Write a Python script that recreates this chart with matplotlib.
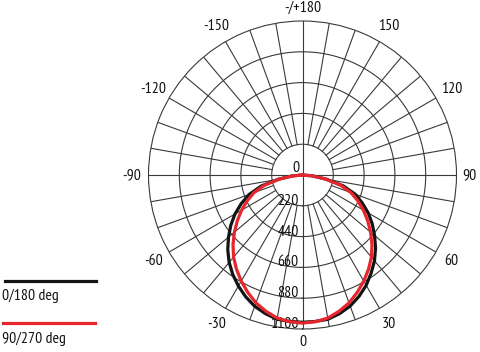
import numpy as np
import matplotlib
matplotlib.use("Agg")
import matplotlib.pyplot as plt
from matplotlib.lines import Line2D

# ---- data ----
angles_deg = [-90, -85, -80, -75, -70, -65, -60, -55, -50, -45, -40, -35, -30, -25, -20, -15, -10, -5,
              0, 5, 10, 15, 20, 25, 30, 35, 40, 45, 50, 55, 60, 65, 70, 75, 80, 85, 90]
c0_180 = [0, 72, 175, 305, 405, 482, 557, 625, 690, 755, 815, 868, 916, 960, 998, 1025, 1046, 1050,
          1052, 1050, 1046, 1025, 996, 956, 910, 855, 800, 738, 672, 608, 542, 470, 400, 302, 175, 72, 0]
c90_270 = [0, 70, 166, 281, 369, 436, 502, 568, 635, 702, 766, 822, 875, 925, 972, 1008, 1038, 1052,
           1058, 1052, 1038, 1008, 972, 925, 875, 822, 766, 702, 635, 568, 502, 436, 369, 281, 166, 70, 0]
series_labels = ["0/180 deg", "90/270 deg"]
ring_values = [220, 440, 660, 880, 1100]
ring_labels = ["220", "440", "660", "880", "1100"]
angle_ticks = [0, 30, 60, 90, 120, 150, 180, -150, -120, -90, -60, -30]
angle_tick_labels = ["0", "30", "60", "90", "120", "150", "-/+180", "-150", "-120", "-90", "-60", "-30"]

FONT = ["PT Sans Narrow", "Roboto Condensed", "Liberation Sans", "DejaVu Sans"]
FS = 11.3
GRID = "#3a3a3a"
BLACK = "#141414"
RED = "#e8262d"
TXT = "#111111"

W, H = 480, 352
fig = plt.figure(figsize=(W / 100, H / 100), dpi=100)
cx, cy, R = 302.5, 175.0, 154.0
ax = fig.add_axes([(cx - R) / W, (H - cy - R) / H, 2 * R / W, 2 * R / H], projection="polar")
ax.set_theta_zero_location("S")
ax.set_theta_direction(1)
ax.set_ylim(0, 1100)
ax.grid(False)
ax.set_xticks([])
ax.set_yticks([])
ax.spines["polar"].set_color(GRID)
ax.spines["polar"].set_linewidth(0.8)

# grid circles
tt = np.linspace(0, 2 * np.pi, 361)
for rv in ring_values[:-1]:
    ax.plot(tt, np.full_like(tt, rv), color=GRID, lw=0.8, zorder=1)
# radial lines every 10 degrees
for a in range(0, 360, 10):
    th = np.deg2rad(a)
    r0 = 0 if a % 90 == 0 else ring_values[0]
    ax.plot([th, th], [r0, 1100], color=GRID, lw=0.8, zorder=1)

th = np.deg2rad(angles_deg)
ax.plot(th, c0_180, color=BLACK, lw=2.3, zorder=3, solid_capstyle="round", solid_joinstyle="round")
ax.plot(th, c90_270, color=RED, lw=2.3, zorder=4, solid_capstyle="round", solid_joinstyle="round")

# angle labels
for a, lab in zip(angle_ticks, angle_tick_labels):
    rpx = 167 if a % 90 == 0 else 172
    if a == -90:
        rpx = 171
    ax.text(np.deg2rad(a), 1100 * rpx / R, lab, ha="center", va="center", fontsize=FS,
            family=FONT, color=TXT, clip_on=False)

# radial labels
ax.annotate("0", xy=(0, 0), xytext=(-3, 7), textcoords="offset pixels",
            ha="right", va="center", fontsize=FS, family=FONT, color=TXT)
for rv, lab in zip(ring_values, ring_labels):
    ax.annotate(lab, xy=(0, rv), xytext=(-4, 5), textcoords="offset pixels",
                ha="right", va="center", fontsize=FS, family=FONT, color=TXT)

# legend
fig.add_artist(Line2D([5 / W, 96 / W], [1 - 280.7 / H, 1 - 280.7 / H], color=BLACK, lw=2.3))
fig.text(2 / W, 1 - 295.7 / H, series_labels[0], ha="left", va="center", fontsize=FS,
         family=FONT, color=TXT)
fig.add_artist(Line2D([3 / W, 95 / W], [1 - 323.3 / H, 1 - 323.3 / H], color=RED, lw=2.3))
fig.text(2 / W, 1 - 339 / H, series_labels[1], ha="left", va="center", fontsize=FS,
         family=FONT, color=TXT)

fig.savefig("out.png", dpi=100)
